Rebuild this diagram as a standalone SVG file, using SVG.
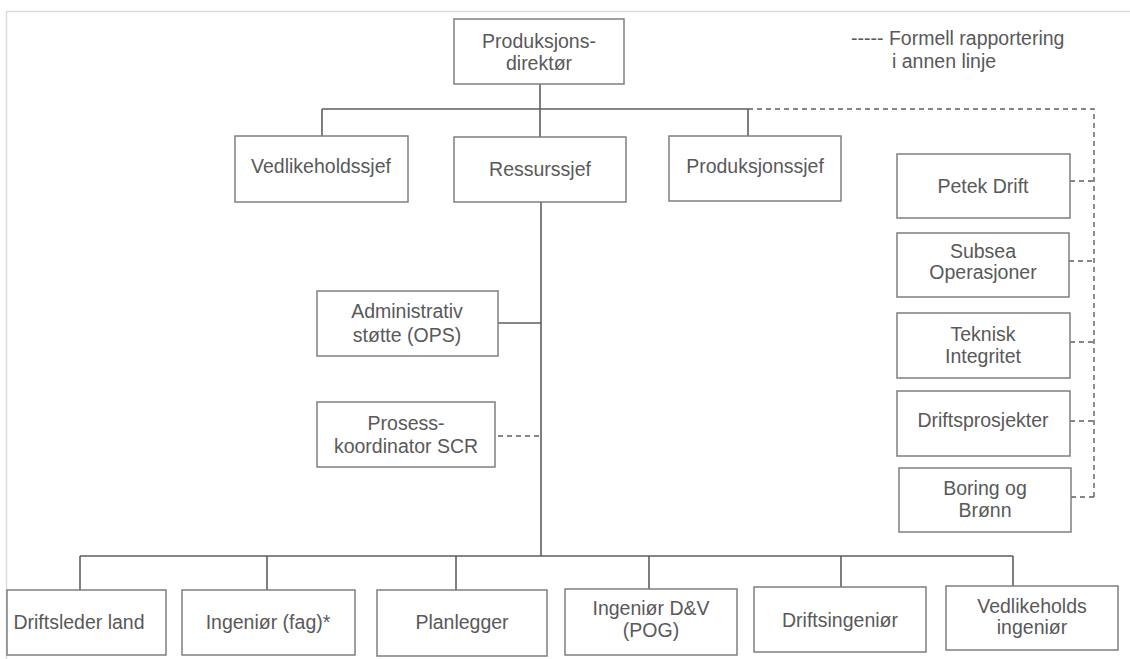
<svg xmlns="http://www.w3.org/2000/svg" width="1130" height="659" viewBox="0 0 1130 659">
<style>
.box{fill:#fff;stroke:#7f7f7f;stroke-width:1.5}
.t{font-family:"Liberation Sans",Arial,sans-serif;font-size:19.5px;fill:#595959;text-anchor:middle}
.tl{font-family:"Liberation Sans",Arial,sans-serif;font-size:19.5px;fill:#595959}
.ln{fill:none;stroke:#5f5f5f;stroke-width:1.6}
.dl{fill:none;stroke:#5f5f5f;stroke-width:1.4;stroke-dasharray:5 4}
</style>
<rect x="6.5" y="11.5" width="1200" height="700" fill="#fff" stroke="#dcdcdc" stroke-width="1.5"/>
<g id="connectors">
<path class="ln" d="M540 84V109M322 109H748M322 109V136M540 109V137M748 109V136"/>
<path class="ln" d="M541 202V556M498 323H541"/>
<path class="ln" d="M80 556H1013M80 556V590M267 556V590M456 556V590M649 556V589M841 556V587M1013 556V586"/>
<path class="dl" d="M748 109H1094V497M1070 181H1094M1069 261H1094M1070 342H1094M1070 421H1094M1071 497H1094M498 436H541"/>
</g>
<g id="legend">
<text class="tl" x="851" y="45">----- Formell rapportering</text>
<text class="tl" x="892" y="68">i annen linje</text>
</g>
<g id="n-direktor"><rect class="box" x="454" y="19" width="170" height="65"/><text class="t" x="539" y="48">Produksjons-</text><text class="t" x="539" y="70">direktør</text></g>
<g id="n-vedlikeholdssjef"><rect class="box" x="235" y="136" width="173" height="66"/><text class="t" x="321" y="173">Vedlikeholdssjef</text></g>
<g id="n-ressurssjef"><rect class="box" x="454" y="137" width="172" height="65"/><text class="t" x="540" y="176">Ressurssjef</text></g>
<g id="n-produksjonssjef"><rect class="box" x="669" y="136" width="172" height="65"/><text class="t" x="755" y="173">Produksjonssjef</text></g>
<g id="n-petek"><rect class="box" x="897" y="154" width="173" height="64"/><text class="t" x="983" y="193">Petek Drift</text></g>
<g id="n-subsea"><rect class="box" x="897" y="233" width="172" height="64"/><text class="t" x="983" y="258">Subsea</text><text class="t" x="983" y="279">Operasjoner</text></g>
<g id="n-teknisk"><rect class="box" x="897" y="313" width="173" height="65"/><text class="t" x="983" y="341">Teknisk</text><text class="t" x="983" y="363">Integritet</text></g>
<g id="n-driftsprosjekter"><rect class="box" x="897" y="391" width="173" height="65"/><text class="t" x="983" y="427">Driftsprosjekter</text></g>
<g id="n-boring"><rect class="box" x="899" y="468" width="172" height="64"/><text class="t" x="985" y="495">Boring og</text><text class="t" x="985" y="517">Brønn</text></g>
<g id="n-admin"><rect class="box" x="317" y="291" width="181" height="65"/><text class="t" x="407" y="318">Administrativ</text><text class="t" x="407" y="342">støtte (OPS)</text></g>
<g id="n-prosess"><rect class="box" x="317" y="402" width="178" height="65"/><text class="t" x="406" y="430">Prosess-</text><text class="t" x="406" y="453">koordinator SCR</text></g>
<g id="n-driftsleder"><rect class="box" x="7" y="590" width="159" height="65"/><text class="t" x="79" y="629">Driftsleder land</text></g>
<g id="n-ingenior-fag"><rect class="box" x="182" y="590" width="173" height="65"/><text class="t" x="268" y="629">Ingeniør (fag)*</text></g>
<g id="n-planlegger"><rect class="box" x="377" y="590" width="170" height="66"/><text class="t" x="462" y="629">Planlegger</text></g>
<g id="n-ingenior-dv"><rect class="box" x="565" y="589" width="172" height="66"/><text class="t" x="651" y="615">Ingeniør D&amp;V</text><text class="t" x="651" y="637">(POG)</text></g>
<g id="n-driftsingenior"><rect class="box" x="754" y="587" width="172" height="65"/><text class="t" x="840" y="627">Driftsingeniør</text></g>
<g id="n-vedlikeholds-ing"><rect class="box" x="946" y="586" width="172" height="64"/><text class="t" x="1032" y="613">Vedlikeholds</text><text class="t" x="1032" y="634">ingeniør</text></g>
</svg>
